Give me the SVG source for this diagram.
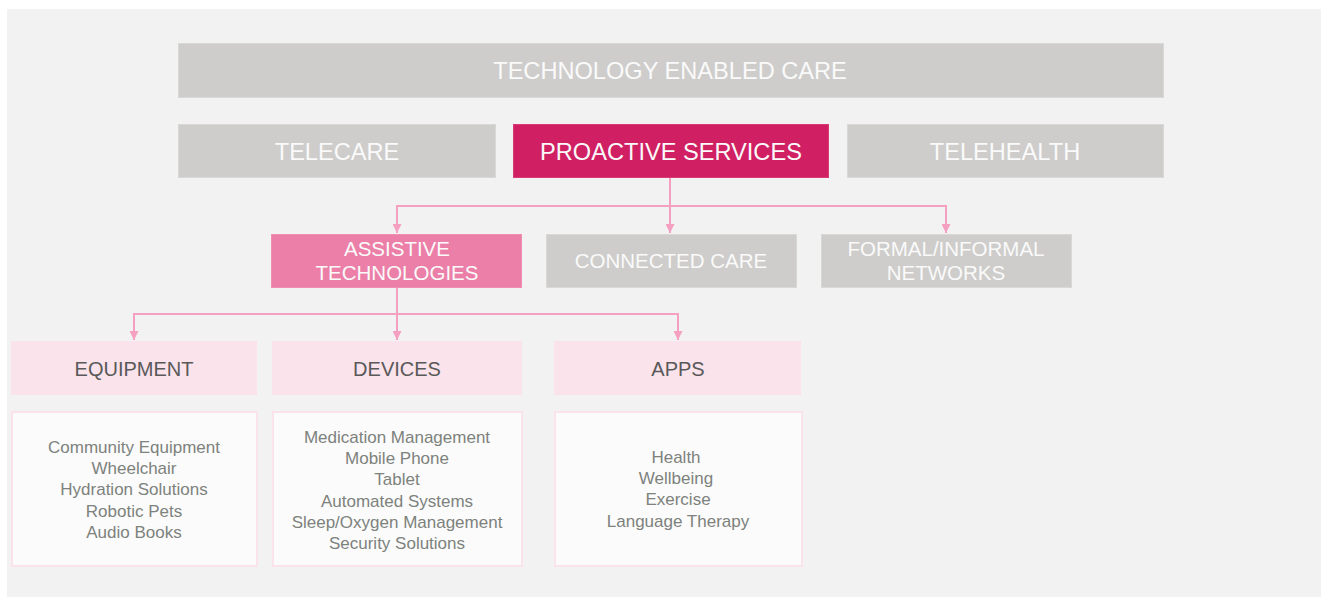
<svg xmlns="http://www.w3.org/2000/svg" width="1321" height="597" viewBox="0 0 1321 597">
<style>
.grey{fill:#cecdcb;stroke:#d8d8d6;stroke-width:1}
.hot{fill:#d02063;stroke:#d83a74;stroke-width:1}
.mid{fill:#eb7fa8;stroke:#ee8fb2;stroke-width:1}
.pale{fill:#fae3eb}
.list{fill:#fbfbfb;stroke:#fae3eb;stroke-width:2}
.t{font-family:"Liberation Sans",Arial,sans-serif;text-anchor:middle}
.w{fill:#fafafa}
.h1{font-size:23.6px}
.h2{font-size:20.5px}
.sub{fill:#595959;font-size:20px}
.li{fill:#7d827d;font-size:17px}
.con{fill:none;stroke:#f59fc1;stroke-width:2}
</style>
<defs>
<marker id="arr" viewBox="0 0 10 10" refX="10" refY="5" markerWidth="4.5" markerHeight="4.5" orient="auto" markerUnits="strokeWidth">
<path d="M0,0 L10,5 L0,10 Z" fill="#f59fc1"/>
</marker>
</defs>
<rect x="7" y="9" width="1314" height="588" fill="#f2f2f2"/>
<g id="tec"><rect class="grey" x="178.5" y="43.5" width="985" height="54"/><text class="t w h1" x="670" y="79">TECHNOLOGY ENABLED CARE</text></g>
<g id="telecare"><rect class="grey" x="178.5" y="124.5" width="317" height="53"/><text class="t w h1" x="337" y="160">TELECARE</text></g>
<g id="proactive"><rect class="hot" x="513.5" y="124.5" width="315" height="53"/><text class="t w h1" x="671" y="160">PROACTIVE SERVICES</text></g>
<g id="telehealth"><rect class="grey" x="847.5" y="124.5" width="316" height="53"/><text class="t w h1" x="1005" y="160">TELEHEALTH</text></g>
<g id="assistive"><rect class="mid" x="271.5" y="234.5" width="250" height="53"/><text class="t w h2" x="397" y="256">ASSISTIVE</text><text class="t w h2" x="397" y="280">TECHNOLOGIES</text></g>
<g id="connected"><rect class="grey" x="546.5" y="234.5" width="250" height="53"/><text class="t w h2" x="671" y="268">CONNECTED CARE</text></g>
<g id="formal"><rect class="grey" x="821.5" y="234.5" width="250" height="53"/><text class="t w h2" x="946" y="256">FORMAL/INFORMAL</text><text class="t w h2" x="946" y="280">NETWORKS</text></g>
<g id="equipment"><rect class="pale" x="11" y="341" width="246" height="54"/><text class="t sub" x="134" y="376">EQUIPMENT</text></g>
<g id="devices"><rect class="pale" x="272" y="341" width="250" height="54"/><text class="t sub" x="397" y="376">DEVICES</text></g>
<g id="apps"><rect class="pale" x="554" y="341" width="247" height="54"/><text class="t sub" x="678" y="376">APPS</text></g>
<g id="equipment-list"><rect class="list" x="12" y="412" width="245" height="154"/>
<text class="t li" x="134" y="453">Community Equipment</text>
<text class="t li" x="134" y="474.2">Wheelchair</text>
<text class="t li" x="134" y="495.4">Hydration Solutions</text>
<text class="t li" x="134" y="516.6">Robotic Pets</text>
<text class="t li" x="134" y="537.8">Audio Books</text></g>
<g id="devices-list"><rect class="list" x="273" y="412" width="249" height="154"/>
<text class="t li" x="397" y="443">Medication Management</text>
<text class="t li" x="397" y="464.2">Mobile Phone</text>
<text class="t li" x="397" y="485.4">Tablet</text>
<text class="t li" x="397" y="506.6">Automated Systems</text>
<text class="t li" x="397" y="527.8">Sleep/Oxygen Management</text>
<text class="t li" x="397" y="549">Security Solutions</text></g>
<g id="apps-list"><rect class="list" x="555" y="412" width="247" height="154"/>
<text class="t li" x="676" y="463">Health</text>
<text class="t li" x="676" y="484.2">Wellbeing</text>
<text class="t li" x="678" y="505.4">Exercise</text>
<text class="t li" x="678" y="526.6">Language Therapy</text></g>
<g id="connectors">
<path class="con" d="M670,178 V233" marker-end="url(#arr)"/>
<path class="con" d="M670,206 H397 V233" marker-end="url(#arr)"/>
<path class="con" d="M670,206 H946 V233" marker-end="url(#arr)"/>
<path class="con" d="M397,288 V340" marker-end="url(#arr)"/>
<path class="con" d="M397,314 H134 V340" marker-end="url(#arr)"/>
<path class="con" d="M397,314 H678 V340" marker-end="url(#arr)"/>
</g>
</svg>
